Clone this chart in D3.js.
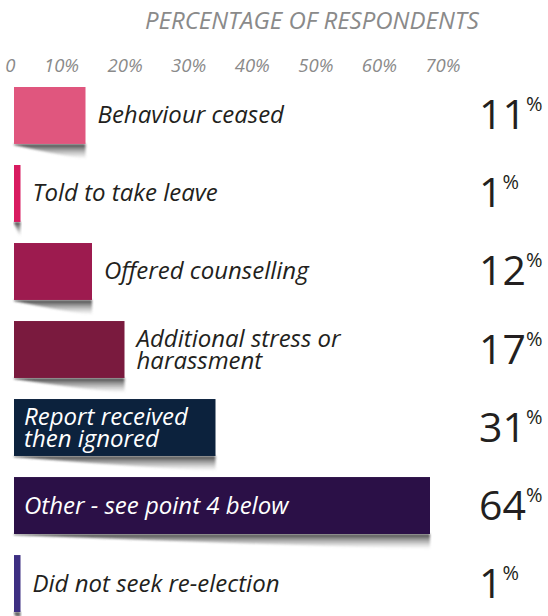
<!DOCTYPE html>
<html>
<head>
<meta charset="utf-8">
<script src="https://cdn.jsdelivr.net/npm/d3@7"></script>
<style>
  html, body { margin: 0; padding: 0; background: #fff; }
  svg { display: block; }
</style>
</head>
<body>
<svg id="chart" width="548" height="616"></svg>
<script>
// ---- data ----
const categories = [
  "Behaviour ceased",
  "Told to take leave",
  "Offered counselling",
  "Additional stress or harassment",
  "Report received then ignored",
  "Other - see point 4 below",
  "Did not seek re-election"
];
const labelLines = [
  ["Behaviour ceased"],
  ["Told to take leave"],
  ["Offered counselling"],
  ["Additional stress or", "harassment"],
  ["Report received", "then ignored"],
  ["Other - see point 4 below"],
  ["Did not seek re-election"]
];
const values = [11, 1, 12, 17, 31, 64, 1];
const barColors = ["#e0567e", "#d81b60", "#9d1b4f", "#7a1a3e", "#0c223d", "#2b1047", "#3d2f82"];
const tickValues = [0, 10, 20, 30, 40, 50, 60, 70];
const tickLabels = ["0", "10%", "20%", "30%", "40%", "50%", "60%", "70%"];
const axisTitle = "PERCENTAGE OF RESPONDENTS";

// ---- layout ----
const svg = d3.select("#chart");
const labelFont = "'Open Sans', 'Noto Sans', sans-serif";

const x = d3.scaleLinear().domain([0, 70]).range([14, 469]);
const xTicks = d3.scaleLinear().domain([0, 70]).range([15, 460]);
const y = d3.scaleBand().domain(categories).range([87, 612]).paddingInner(0.27).paddingOuter(0);

// defs: shadow gradient + blur
const defs = svg.append("defs");
const grad = defs.append("linearGradient").attr("id", "shadowGrad")
  .attr("x1", 0).attr("y1", 0).attr("x2", 0).attr("y2", 1);
grad.append("stop").attr("offset", "0%").attr("stop-color", "#333").attr("stop-opacity", 0.95);
grad.append("stop").attr("offset", "100%").attr("stop-color", "#999").attr("stop-opacity", 0.0);
const blur = defs.append("filter").attr("id", "shadowBlur")
  .attr("x", "-10%").attr("y", "-50%").attr("width", "120%").attr("height", "200%");
blur.append("feGaussianBlur").attr("stdDeviation", 1.2);

// title
svg.append("text")
  .attr("x", 145).attr("y", 29)
  .attr("font-family", labelFont).attr("font-style", "italic")
  .attr("font-size", 24).attr("fill", "#8a8a8a")
  .text(axisTitle);

// axis tick labels
const axis = d3.axisTop(xTicks)
  .tickValues(tickValues)
  .tickSize(0)
  .tickPadding(0)
  .tickFormat((d, i) => tickLabels[i]);
const gAxis = svg.append("g").attr("transform", "translate(0,72)").call(axis);
gAxis.select(".domain").remove();
gAxis.selectAll("text")
  .attr("text-anchor", "end")
  .attr("dy", 0)
  .attr("font-family", labelFont).attr("font-style", "italic")
  .attr("font-size", 18.5).attr("fill", "#8a8a8a");

// rows
const rows = svg.append("g").selectAll("g.row")
  .data(categories.map((c, i) => ({ c, v: values[i], lines: labelLines[i], color: barColors[i] })))
  .join("g").attr("class", "row");

// shadows
rows.append("path")
  .attr("d", d => {
    const x0 = x(0), x1 = x(d.v), b = y(d.c) + y.bandwidth();
    const w = x1 - x0;
    return `M${x0},${b} L${x1},${b} L${x1},${b + 15} Q${x0 + w * 0.55},${b + 10} ${x0},${b + 1} Z`;
  })
  .attr("fill", "url(#shadowGrad)")
  .attr("filter", "url(#shadowBlur)");

// bars
rows.append("rect")
  .attr("x", x(0))
  .attr("y", d => y(d.c))
  .attr("width", d => x(d.v) - x(0))
  .attr("height", y.bandwidth())
  .attr("fill", d => d.color);

// category labels
rows.each(function (d) {
  const inside = d.v > 25;
  const g = d3.select(this);
  const cx = inside ? x(0) + 10 : x(d.v) + 12;
  const mid = y(d.c) + y.bandwidth() / 2;
  const lh = 22;
  const n = d.lines.length;
  const t = g.append("text")
    .attr("font-family", labelFont).attr("font-style", "italic")
    .attr("font-size", 24)
    .attr("fill", inside ? "#ffffff" : "#231f20");
  d.lines.forEach((line, i) => {
    t.append("tspan")
      .attr("x", cx)
      .attr("y", mid + 8 + (i - (n - 1) / 2) * lh)
      .text(line);
  });
});

// value labels
rows.each(function (d) {
  const mid = y(d.c) + y.bandwidth() / 2;
  const t = d3.select(this).append("text")
    .attr("x", 479).attr("y", mid + 14)
    .attr("font-family", labelFont)
    .attr("font-size", 41).attr("fill", "#231f20");
  t.append("tspan").text(d.v);
  t.append("tspan").attr("font-size", 20).attr("dy", -18).attr("dx", 0).text("%");
});
</script>
</body>
</html>
